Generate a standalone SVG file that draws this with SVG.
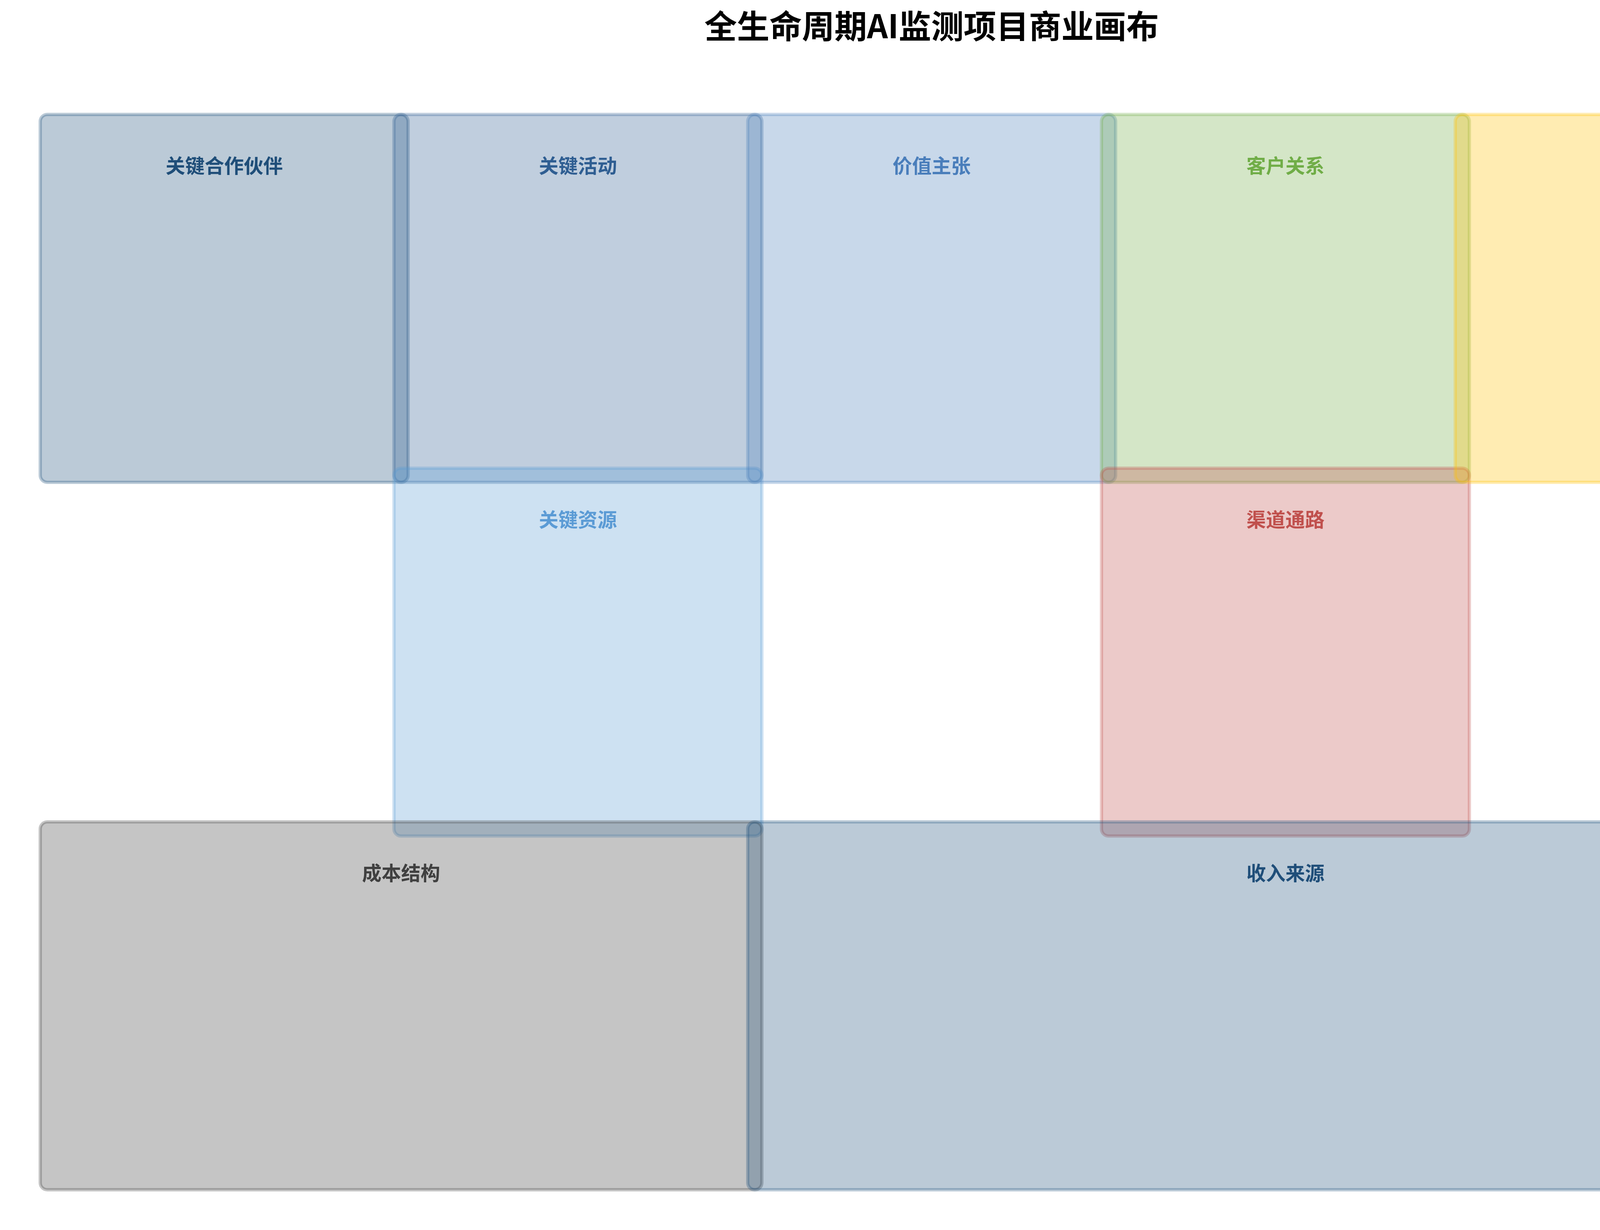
<svg xmlns="http://www.w3.org/2000/svg" width="4770" height="3149" viewBox="0 0 4770 3149">
<style>
.box{fill-opacity:0.3;stroke-opacity:0.3;stroke-width:8.33}
.lbl{font-family:"Noto Sans CJK SC","Liberation Sans",sans-serif;font-weight:bold;font-size:50px;text-anchor:middle}
.title{font-family:"Noto Sans CJK SC","Liberation Sans",sans-serif;font-weight:bold;font-size:83.3px;text-anchor:middle;fill:#000000}
</style>
<rect x="0" y="0" width="4770" height="3149" fill="#ffffff"/>
<text class="title" x="2385" y="98">全生命周期AI监测项目商业画布</text>
<g id="key-partners">
<rect class="box" x="103.0" y="293.0" width="941.8" height="941.8" rx="18.1" fill="#1f4e79" stroke="#1f4e79"/>
</g>
<g id="key-activities">
<rect class="box" x="1008.6" y="293.0" width="941.8" height="941.8" rx="18.1" fill="#2f5e92" stroke="#2f5e92"/>
</g>
<g id="key-resources">
<rect class="box" x="1008.6" y="1198.6" width="941.8" height="941.8" rx="18.1" fill="#5b9bd5" stroke="#5b9bd5"/>
</g>
<g id="value-propositions">
<rect class="box" x="1914.2" y="293.0" width="941.8" height="941.8" rx="18.1" fill="#4a7ebb" stroke="#4a7ebb"/>
</g>
<g id="customer-relationships">
<rect class="box" x="2819.8" y="293.0" width="941.8" height="941.8" rx="18.1" fill="#70ad47" stroke="#70ad47"/>
</g>
<g id="channels">
<rect class="box" x="2819.8" y="1198.6" width="941.8" height="941.8" rx="18.1" fill="#c0504d" stroke="#c0504d"/>
</g>
<g id="customer-segments">
<rect class="box" x="3725.4" y="293.0" width="941.8" height="941.8" rx="18.1" fill="#ffc000" stroke="#ffc000"/>
</g>
<g id="cost-structure">
<rect class="box" x="103.0" y="2104.2" width="1847.4" height="941.8" rx="18.1" fill="#404040" stroke="#404040"/>
</g>
<g id="revenue-streams">
<rect class="box" x="1914.2" y="2104.2" width="2753.0" height="941.8" rx="18.1" fill="#1f4e79" stroke="#1f4e79"/>
</g>
<g id="labels">
<text class="lbl" x="574" y="443" fill="#1f4e79">关键合作伙伴</text>
<text class="lbl" x="1479.5" y="443" fill="#2f5e92">关键活动</text>
<text class="lbl" x="2385.1" y="443" fill="#4a7ebb">价值主张</text>
<text class="lbl" x="3290.7" y="443" fill="#70ad47">客户关系</text>
<text class="lbl" x="4196.3" y="443" fill="#ffc000">客户细分</text>
<text class="lbl" x="1479.5" y="1349" fill="#5b9bd5">关键资源</text>
<text class="lbl" x="3290.7" y="1349" fill="#c0504d">渠道通路</text>
<text class="lbl" x="1026.7" y="2254" fill="#404040">成本结构</text>
<text class="lbl" x="3290.7" y="2254" fill="#1f4e79">收入来源</text>
</g>
<g id="connectors"/>
</svg>
